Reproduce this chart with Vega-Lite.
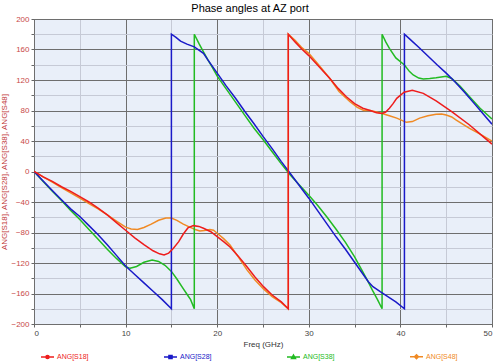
{
  "$schema": "https://vega.github.io/schema/vega-lite/v6.json",
  "width": 458,
  "height": 305,
  "autosize": {"type": "none"},
  "padding": {"left": 34, "top": 19, "right": 8, "bottom": 37},
  "background": "white",
  "config": {
    "font": "Liberation Sans",
    "view": {"fill": "#e9eff9", "stroke": "#555555", "strokeWidth": 1}
  },
  "title": {
    "text": "Phase angles at AZ port",
    "fontSize": 11,
    "fontWeight": "normal",
    "color": "#000000",
    "font": "Liberation Sans",
    "offset": 1,
    "dx": -13
  },
  "data": {"values": [
    {"s":"ANG[S48]","i":0,"f":0,"v":0},{"s":"ANG[S48]","i":1,"f":1,"v":-7},{"s":"ANG[S48]","i":2,"f":2,"v":-14},{"s":"ANG[S48]","i":3,"f":3,"v":-21},{"s":"ANG[S48]","i":4,"f":4,"v":-28},{"s":"ANG[S48]","i":5,"f":5,"v":-35},{"s":"ANG[S48]","i":6,"f":6,"v":-42},{"s":"ANG[S48]","i":7,"f":7,"v":-49},{"s":"ANG[S48]","i":8,"f":8,"v":-57},{"s":"ANG[S48]","i":9,"f":9,"v":-65},{"s":"ANG[S48]","i":10,"f":10,"v":-73},{"s":"ANG[S48]","i":11,"f":10.6,"v":-75.5},{"s":"ANG[S48]","i":12,"f":11.3,"v":-76},{"s":"ANG[S48]","i":13,"f":12,"v":-73.5},{"s":"ANG[S48]","i":14,"f":12.8,"v":-69},{"s":"ANG[S48]","i":15,"f":13.6,"v":-64},{"s":"ANG[S48]","i":16,"f":14.4,"v":-61},{"s":"ANG[S48]","i":17,"f":15,"v":-61},{"s":"ANG[S48]","i":18,"f":15.6,"v":-64},{"s":"ANG[S48]","i":19,"f":16.3,"v":-69},{"s":"ANG[S48]","i":20,"f":17,"v":-73},{"s":"ANG[S48]","i":21,"f":17.6,"v":-76},{"s":"ANG[S48]","i":22,"f":18.1,"v":-78},{"s":"ANG[S48]","i":23,"f":18.6,"v":-77.5},{"s":"ANG[S48]","i":24,"f":19.2,"v":-76},{"s":"ANG[S48]","i":25,"f":19.6,"v":-77},{"s":"ANG[S48]","i":26,"f":20,"v":-81},{"s":"ANG[S48]","i":27,"f":20.7,"v":-88},{"s":"ANG[S48]","i":28,"f":21.4,"v":-96.4},{"s":"ANG[S48]","i":29,"f":22.3,"v":-112},{"s":"ANG[S48]","i":30,"f":23.25,"v":-129},{"s":"ANG[S48]","i":31,"f":24.1,"v":-142},{"s":"ANG[S48]","i":32,"f":25.05,"v":-154},{"s":"ANG[S48]","i":33,"f":26,"v":-164},{"s":"ANG[S48]","i":34,"f":27,"v":-172},{"s":"ANG[S48]","i":35,"f":27.76,"v":-180},{"s":"ANG[S48]","i":36,"f":27.76,"v":180},{"s":"ANG[S48]","i":37,"f":28.5,"v":172},{"s":"ANG[S48]","i":38,"f":29.2,"v":163},{"s":"ANG[S48]","i":39,"f":30,"v":155},{"s":"ANG[S48]","i":40,"f":31,"v":141},{"s":"ANG[S48]","i":41,"f":32.3,"v":122},{"s":"ANG[S48]","i":42,"f":33.3,"v":105},{"s":"ANG[S48]","i":43,"f":34.5,"v":91.5},{"s":"ANG[S48]","i":44,"f":35.3,"v":84},{"s":"ANG[S48]","i":45,"f":36,"v":80},{"s":"ANG[S48]","i":46,"f":36.7,"v":80},{"s":"ANG[S48]","i":47,"f":37.4,"v":78},{"s":"ANG[S48]","i":48,"f":38,"v":76},{"s":"ANG[S48]","i":49,"f":38.8,"v":73},{"s":"ANG[S48]","i":50,"f":39.6,"v":70},{"s":"ANG[S48]","i":51,"f":40.65,"v":64.5},{"s":"ANG[S48]","i":52,"f":41.3,"v":65.5},{"s":"ANG[S48]","i":53,"f":42.1,"v":70},{"s":"ANG[S48]","i":54,"f":43,"v":73},{"s":"ANG[S48]","i":55,"f":43.9,"v":75},{"s":"ANG[S48]","i":56,"f":44.5,"v":75.5},{"s":"ANG[S48]","i":57,"f":45,"v":74},{"s":"ANG[S48]","i":58,"f":45.6,"v":71.5},{"s":"ANG[S48]","i":59,"f":46.1,"v":67.5},{"s":"ANG[S48]","i":60,"f":46.8,"v":62},{"s":"ANG[S48]","i":61,"f":47.55,"v":56.6},{"s":"ANG[S48]","i":62,"f":48.7,"v":49},{"s":"ANG[S48]","i":63,"f":50,"v":40},

    {"s":"ANG[S38]","i":0,"f":0,"v":0},{"s":"ANG[S38]","i":1,"f":1,"v":-13},{"s":"ANG[S38]","i":2,"f":2,"v":-26},{"s":"ANG[S38]","i":3,"f":3,"v":-38},{"s":"ANG[S38]","i":4,"f":4,"v":-51},{"s":"ANG[S38]","i":5,"f":5,"v":-63},{"s":"ANG[S38]","i":6,"f":6,"v":-76},{"s":"ANG[S38]","i":7,"f":7,"v":-89},{"s":"ANG[S38]","i":8,"f":8,"v":-102},{"s":"ANG[S38]","i":9,"f":9,"v":-114},{"s":"ANG[S38]","i":10,"f":10,"v":-125},{"s":"ANG[S38]","i":11,"f":10.5,"v":-127},{"s":"ANG[S38]","i":12,"f":11.2,"v":-124.5},{"s":"ANG[S38]","i":13,"f":12,"v":-119},{"s":"ANG[S38]","i":14,"f":12.9,"v":-116},{"s":"ANG[S38]","i":15,"f":13.6,"v":-118},{"s":"ANG[S38]","i":16,"f":14.3,"v":-123},{"s":"ANG[S38]","i":17,"f":15,"v":-131},{"s":"ANG[S38]","i":18,"f":15.6,"v":-141},{"s":"ANG[S38]","i":19,"f":16.2,"v":-152},{"s":"ANG[S38]","i":20,"f":16.7,"v":-161},{"s":"ANG[S38]","i":21,"f":17.1,"v":-168},{"s":"ANG[S38]","i":22,"f":17.5,"v":-180},{"s":"ANG[S38]","i":23,"f":17.5,"v":180},{"s":"ANG[S38]","i":24,"f":18,"v":168},{"s":"ANG[S38]","i":25,"f":18.5,"v":157},{"s":"ANG[S38]","i":26,"f":19,"v":146},{"s":"ANG[S38]","i":27,"f":19.5,"v":136},{"s":"ANG[S38]","i":28,"f":20,"v":125},{"s":"ANG[S38]","i":29,"f":21,"v":108},{"s":"ANG[S38]","i":30,"f":22,"v":91},{"s":"ANG[S38]","i":31,"f":23,"v":74},{"s":"ANG[S38]","i":32,"f":24,"v":57},{"s":"ANG[S38]","i":33,"f":25,"v":42},{"s":"ANG[S38]","i":34,"f":26,"v":26},{"s":"ANG[S38]","i":35,"f":27,"v":10},{"s":"ANG[S38]","i":36,"f":28,"v":-5},{"s":"ANG[S38]","i":37,"f":29,"v":-18},{"s":"ANG[S38]","i":38,"f":30,"v":-31},{"s":"ANG[S38]","i":39,"f":31,"v":-45},{"s":"ANG[S38]","i":40,"f":32,"v":-60},{"s":"ANG[S38]","i":41,"f":33,"v":-76},{"s":"ANG[S38]","i":42,"f":34,"v":-93},{"s":"ANG[S38]","i":43,"f":35,"v":-112},{"s":"ANG[S38]","i":44,"f":36,"v":-134},{"s":"ANG[S38]","i":45,"f":36.5,"v":-145},{"s":"ANG[S38]","i":46,"f":37,"v":-157},{"s":"ANG[S38]","i":47,"f":37.5,"v":-168},{"s":"ANG[S38]","i":48,"f":38,"v":-180},{"s":"ANG[S38]","i":49,"f":38,"v":180},{"s":"ANG[S38]","i":50,"f":38.4,"v":170},{"s":"ANG[S38]","i":51,"f":38.8,"v":161.5},{"s":"ANG[S38]","i":52,"f":39.5,"v":149},{"s":"ANG[S38]","i":53,"f":40.44,"v":139.7},{"s":"ANG[S38]","i":54,"f":41,"v":131},{"s":"ANG[S38]","i":55,"f":41.4,"v":126.6},{"s":"ANG[S38]","i":56,"f":42,"v":122.5},{"s":"ANG[S38]","i":57,"f":42.5,"v":121.3},{"s":"ANG[S38]","i":58,"f":43.2,"v":122},{"s":"ANG[S38]","i":59,"f":43.9,"v":123},{"s":"ANG[S38]","i":60,"f":45,"v":125},{"s":"ANG[S38]","i":61,"f":45.6,"v":122},{"s":"ANG[S38]","i":62,"f":46.5,"v":112},{"s":"ANG[S38]","i":63,"f":47.55,"v":98},{"s":"ANG[S38]","i":64,"f":48.7,"v":83},{"s":"ANG[S38]","i":65,"f":50,"v":69},

    {"s":"ANG[S28]","i":0,"f":0,"v":0},{"s":"ANG[S28]","i":1,"f":1,"v":-12.5},{"s":"ANG[S28]","i":2,"f":2,"v":-25},{"s":"ANG[S28]","i":3,"f":3,"v":-37},{"s":"ANG[S28]","i":4,"f":4,"v":-49},{"s":"ANG[S28]","i":5,"f":5,"v":-59},{"s":"ANG[S28]","i":6,"f":6,"v":-71},{"s":"ANG[S28]","i":7,"f":7,"v":-83},{"s":"ANG[S28]","i":8,"f":8,"v":-96},{"s":"ANG[S28]","i":9,"f":9,"v":-110},{"s":"ANG[S28]","i":10,"f":10,"v":-124},{"s":"ANG[S28]","i":11,"f":11,"v":-135},{"s":"ANG[S28]","i":12,"f":12,"v":-146},{"s":"ANG[S28]","i":13,"f":13,"v":-157},{"s":"ANG[S28]","i":14,"f":14,"v":-168},{"s":"ANG[S28]","i":15,"f":15,"v":-180},{"s":"ANG[S28]","i":16,"f":15,"v":180},{"s":"ANG[S28]","i":17,"f":15.5,"v":176},{"s":"ANG[S28]","i":18,"f":16,"v":171},{"s":"ANG[S28]","i":19,"f":16.7,"v":167},{"s":"ANG[S28]","i":20,"f":17.5,"v":163.5},{"s":"ANG[S28]","i":21,"f":18.5,"v":155},{"s":"ANG[S28]","i":22,"f":19,"v":146},{"s":"ANG[S28]","i":23,"f":20,"v":129},{"s":"ANG[S28]","i":24,"f":21,"v":112},{"s":"ANG[S28]","i":25,"f":22,"v":96},{"s":"ANG[S28]","i":26,"f":23,"v":79},{"s":"ANG[S28]","i":27,"f":24,"v":63},{"s":"ANG[S28]","i":28,"f":25,"v":46},{"s":"ANG[S28]","i":29,"f":26,"v":30},{"s":"ANG[S28]","i":30,"f":27,"v":13},{"s":"ANG[S28]","i":31,"f":28,"v":-3},{"s":"ANG[S28]","i":32,"f":29,"v":-19},{"s":"ANG[S28]","i":33,"f":30,"v":-35},{"s":"ANG[S28]","i":34,"f":31,"v":-52},{"s":"ANG[S28]","i":35,"f":32,"v":-69},{"s":"ANG[S28]","i":36,"f":33,"v":-86},{"s":"ANG[S28]","i":37,"f":34,"v":-102},{"s":"ANG[S28]","i":38,"f":35,"v":-119},{"s":"ANG[S28]","i":39,"f":36,"v":-136},{"s":"ANG[S28]","i":40,"f":36.5,"v":-144.5},{"s":"ANG[S28]","i":41,"f":37,"v":-151},{"s":"ANG[S28]","i":42,"f":37.8,"v":-157.6},{"s":"ANG[S28]","i":43,"f":38.5,"v":-163},{"s":"ANG[S28]","i":44,"f":39.5,"v":-171},{"s":"ANG[S28]","i":45,"f":40.44,"v":-180},{"s":"ANG[S28]","i":46,"f":40.44,"v":180},{"s":"ANG[S28]","i":47,"f":41,"v":174},{"s":"ANG[S28]","i":48,"f":42,"v":163},{"s":"ANG[S28]","i":49,"f":43,"v":151.5},{"s":"ANG[S28]","i":50,"f":44,"v":140},{"s":"ANG[S28]","i":51,"f":45,"v":129},{"s":"ANG[S28]","i":52,"f":46,"v":117},{"s":"ANG[S28]","i":53,"f":47,"v":104},{"s":"ANG[S28]","i":54,"f":48,"v":90},{"s":"ANG[S28]","i":55,"f":49,"v":76},{"s":"ANG[S28]","i":56,"f":50,"v":62},

    {"s":"ANG[S18]","i":0,"f":0,"v":0},{"s":"ANG[S18]","i":1,"f":1,"v":-7},{"s":"ANG[S18]","i":2,"f":2,"v":-13},{"s":"ANG[S18]","i":3,"f":3,"v":-20},{"s":"ANG[S18]","i":4,"f":4,"v":-26},{"s":"ANG[S18]","i":5,"f":5,"v":-33},{"s":"ANG[S18]","i":6,"f":6,"v":-40},{"s":"ANG[S18]","i":7,"f":7,"v":-48},{"s":"ANG[S18]","i":8,"f":8,"v":-57},{"s":"ANG[S18]","i":9,"f":9,"v":-67},{"s":"ANG[S18]","i":10,"f":10,"v":-77},{"s":"ANG[S18]","i":11,"f":11,"v":-87},{"s":"ANG[S18]","i":12,"f":12,"v":-96},{"s":"ANG[S18]","i":13,"f":13,"v":-104},{"s":"ANG[S18]","i":14,"f":13.7,"v":-108},{"s":"ANG[S18]","i":15,"f":14.2,"v":-109.5},{"s":"ANG[S18]","i":16,"f":14.7,"v":-107},{"s":"ANG[S18]","i":17,"f":15.2,"v":-101},{"s":"ANG[S18]","i":18,"f":15.8,"v":-92},{"s":"ANG[S18]","i":19,"f":16.3,"v":-82},{"s":"ANG[S18]","i":20,"f":16.8,"v":-74},{"s":"ANG[S18]","i":21,"f":17.4,"v":-71},{"s":"ANG[S18]","i":22,"f":18,"v":-72},{"s":"ANG[S18]","i":23,"f":18.5,"v":-74.5},{"s":"ANG[S18]","i":24,"f":19.3,"v":-79},{"s":"ANG[S18]","i":25,"f":20,"v":-85.5},{"s":"ANG[S18]","i":26,"f":20.7,"v":-92},{"s":"ANG[S18]","i":27,"f":21.4,"v":-99},{"s":"ANG[S18]","i":28,"f":22.3,"v":-111},{"s":"ANG[S18]","i":29,"f":23.25,"v":-125},{"s":"ANG[S18]","i":30,"f":24.1,"v":-138},{"s":"ANG[S18]","i":31,"f":25.05,"v":-151},{"s":"ANG[S18]","i":32,"f":26,"v":-162},{"s":"ANG[S18]","i":33,"f":27,"v":-171},{"s":"ANG[S18]","i":34,"f":27.76,"v":-180},{"s":"ANG[S18]","i":35,"f":27.76,"v":180},{"s":"ANG[S18]","i":36,"f":28.5,"v":170},{"s":"ANG[S18]","i":37,"f":29.2,"v":161},{"s":"ANG[S18]","i":38,"f":30,"v":152},{"s":"ANG[S18]","i":39,"f":31,"v":139},{"s":"ANG[S18]","i":40,"f":32.3,"v":122},{"s":"ANG[S18]","i":41,"f":33.2,"v":109},{"s":"ANG[S18]","i":42,"f":34.1,"v":98},{"s":"ANG[S18]","i":43,"f":35,"v":89},{"s":"ANG[S18]","i":44,"f":35.9,"v":83},{"s":"ANG[S18]","i":45,"f":36.7,"v":80},{"s":"ANG[S18]","i":46,"f":37.4,"v":77},{"s":"ANG[S18]","i":47,"f":38,"v":76},{"s":"ANG[S18]","i":48,"f":38.4,"v":78},{"s":"ANG[S18]","i":49,"f":38.8,"v":83},{"s":"ANG[S18]","i":50,"f":39.2,"v":89},{"s":"ANG[S18]","i":51,"f":39.6,"v":96},{"s":"ANG[S18]","i":52,"f":40.4,"v":104},{"s":"ANG[S18]","i":53,"f":41.3,"v":106.5},{"s":"ANG[S18]","i":54,"f":42.5,"v":102.5},{"s":"ANG[S18]","i":55,"f":43.9,"v":92.5},{"s":"ANG[S18]","i":56,"f":45.6,"v":78.4},{"s":"ANG[S18]","i":57,"f":47.55,"v":61},{"s":"ANG[S18]","i":58,"f":49,"v":46},{"s":"ANG[S18]","i":59,"f":50,"v":36}
  ]},
  "mark": {"type": "line", "strokeWidth": 1.5, "clip": true},
  "encoding": {
    "x": {
      "field": "f", "type": "quantitative",
      "scale": {"domain": [0, 50], "nice": false, "zero": false},
      "axis": {
        "title": "Freq (GHz)",
        "titleFont": "Liberation Sans", "titleFontSize": 8, "titleFontWeight": "normal", "titleColor": "#333333", "titlePadding": 3,
        "values": [0,5,10,15,20,25,30,35,40,45,50],
        "labelExpr": "datum.value % 10 === 0 ? datum.label : ''",
        "labelFont": "Liberation Sans", "labelFontSize": 8, "labelColor": "#444444", "labelPadding": 2,
        "domain": false, "tickSize": 3, "tickColor": "#666666",
        "grid": true,
        "gridColor": {"condition": {"test": "datum.value % 10 === 0", "value": "#6e6e6e"}, "value": "#c6cad6"},
        "gridWidth": 1
      }
    },
    "y": {
      "field": "v", "type": "quantitative",
      "scale": {"domain": [-200, 200], "nice": false, "zero": false},
      "axis": {
        "title": "ANG[S18], ANG[S28], ANG[S38], ANG[S48]",
        "titleFont": "Liberation Sans", "titleFontSize": 8, "titleFontWeight": "normal", "titleColor": "#c23b3b", "titlePadding": 2,
        "values": [-200,-180,-160,-140,-120,-100,-80,-60,-40,-20,0,20,40,60,80,100,120,140,160,180,200],
        "labelExpr": "datum.value % 40 === 0 ? datum.label : ''",
        "labelFont": "Liberation Sans", "labelFontSize": 8, "labelColor": "#c84848", "labelPadding": 2,
        "domain": false, "tickSize": 3, "tickColor": "#666666",
        "grid": true,
        "gridColor": {"condition": {"test": "datum.value % 40 === 0", "value": "#6e6e6e"}, "value": "#c6cad6"},
        "gridWidth": 1
      }
    },
    "color": {
      "field": "s", "type": "nominal",
      "scale": {"domain": ["ANG[S18]", "ANG[S28]", "ANG[S38]", "ANG[S48]"], "range": ["#ee1c1c", "#1a1ac8", "#22bb22", "#f08a24"]},
      "legend": {
        "title": null,
        "orient": "none",
        "legendX": 6,
        "legendY": 330,
        "direction": "horizontal",
        "columns": 4,
        "columnPadding": 72,
        "labelFont": "Liberation Sans",
        "labelFontSize": 7,
        "labelOffset": 2,
        "symbolSize": 169,
        "symbolStrokeWidth": 1.5,
        "encode": {
          "symbols": {"update": {
            "fill": {"scale": "color", "field": "value"},
            "shape": {"signal": "datum.value === 'ANG[S18]' ? 'M-1,0H1M-0.24,0A0.24,0.24 0 1,0 0.24,0A0.24,0.24 0 1,0 -0.24,0Z' : datum.value === 'ANG[S28]' ? 'M-1,0H1M-0.24,-0.24H0.24V0.24H-0.24Z' : datum.value === 'ANG[S38]' ? 'M-1,0H1M0,-0.3L0.3,0.22H-0.3Z' : 'M-1,0H1M0,-0.3L0.3,0L0,0.3L-0.3,0Z'"}
          }},
          "labels": {"update": {"fill": {"scale": "color", "field": "value"}}}
        }
      }
    },
    "order": {"field": "i", "type": "quantitative"}
  }
}
